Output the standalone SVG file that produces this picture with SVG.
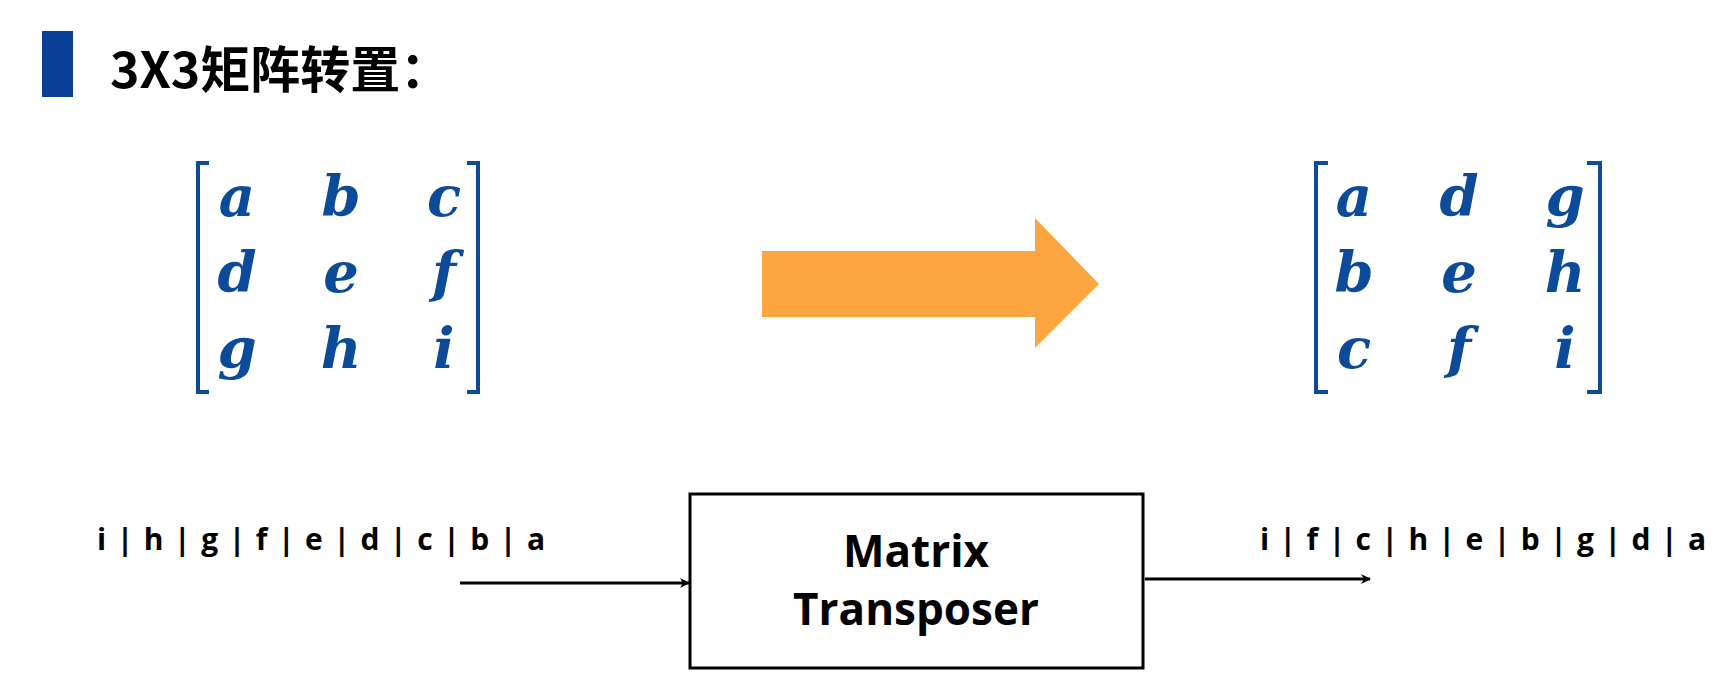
<svg xmlns="http://www.w3.org/2000/svg" width="1726" height="676" viewBox="0 0 1726 676">
<style>
.m{font-family:"DejaVu Serif","Liberation Serif",serif;font-style:italic;font-weight:bold;font-size:56px;fill:#0C4A9A;text-anchor:middle}
.br{fill:none;stroke:#0C4A9A;stroke-width:4}
.seq{font-family:"Open Sans","Liberation Sans",sans-serif;font-weight:bold;font-size:30px;fill:#000}
.box{font-family:"Open Sans","Liberation Sans",sans-serif;font-weight:bold;font-size:44px;fill:#000;text-anchor:middle}
.cn{stroke:#000;stroke-width:3;fill:none;marker-end:url(#ah)}
</style>
<defs><marker id="ah" markerWidth="10" markerHeight="10" refX="9" refY="5" orient="auto" markerUnits="userSpaceOnUse"><path d="M0,0 L10,5 L0,10 L3,5 Z" fill="#000"/></marker></defs>
<rect width="1726" height="676" fill="#fff"/>
<g id="title">
<rect x="42" y="31" width="31" height="66" fill="#0A3F96"/>
<text x="110" y="88" font-family="'Noto Sans CJK SC',sans-serif" font-weight="bold" font-size="50" fill="#000">3X3矩阵转置：</text>
</g>
<g id="matrixA">
<path class="br" d="M209,163 H198 V392 H209 M467,163 H478 V392 H467"/>
<text class="m" x="237" y="216">a</text><text class="m" x="341" y="216">b</text><text class="m" x="444" y="216">c</text>
<text class="m" x="237" y="292">d</text><text class="m" x="341" y="292">e</text><text class="m" x="444" y="292">f</text>
<text class="m" x="237" y="368">g</text><text class="m" x="341" y="368">h</text><text class="m" x="444" y="368">i</text>
</g>
<g id="bigArrow"><path d="M762,251 H1035 V218 L1099,284 L1035,348 V317 H762 Z" fill="#FBA640"/></g>
<g id="matrixB">
<path class="br" d="M1328,163 H1316 V392 H1328 M1587,163 H1600 V392 H1587"/>
<text class="m" x="1354" y="216">a</text><text class="m" x="1459" y="216">d</text><text class="m" x="1565" y="216">g</text>
<text class="m" x="1354" y="292">b</text><text class="m" x="1459" y="292">e</text><text class="m" x="1565" y="292">h</text>
<text class="m" x="1354" y="368">c</text><text class="m" x="1459" y="368">f</text><text class="m" x="1565" y="368">i</text>
</g>
<g id="transposer">
<rect x="690" y="494" width="453" height="174" fill="#fff" stroke="#000" stroke-width="3"/>
<text class="box" x="916" y="567">Matrix</text>
<text class="box" x="916" y="625">Transposer</text>
</g>
<g id="inputSeq"><text class="seq" x="97" y="550" textLength="448">i | h | g | f | e | d | c | b | a</text></g>
<g id="outputSeq"><text class="seq" x="1260" y="550" textLength="446">i | f | c | h | e | b | g | d | a</text></g>
<g id="connectors">
<line class="cn" x1="460" y1="583" x2="689" y2="583"/>
<line class="cn" x1="1145" y1="579" x2="1370" y2="579"/>
</g>
</svg>
